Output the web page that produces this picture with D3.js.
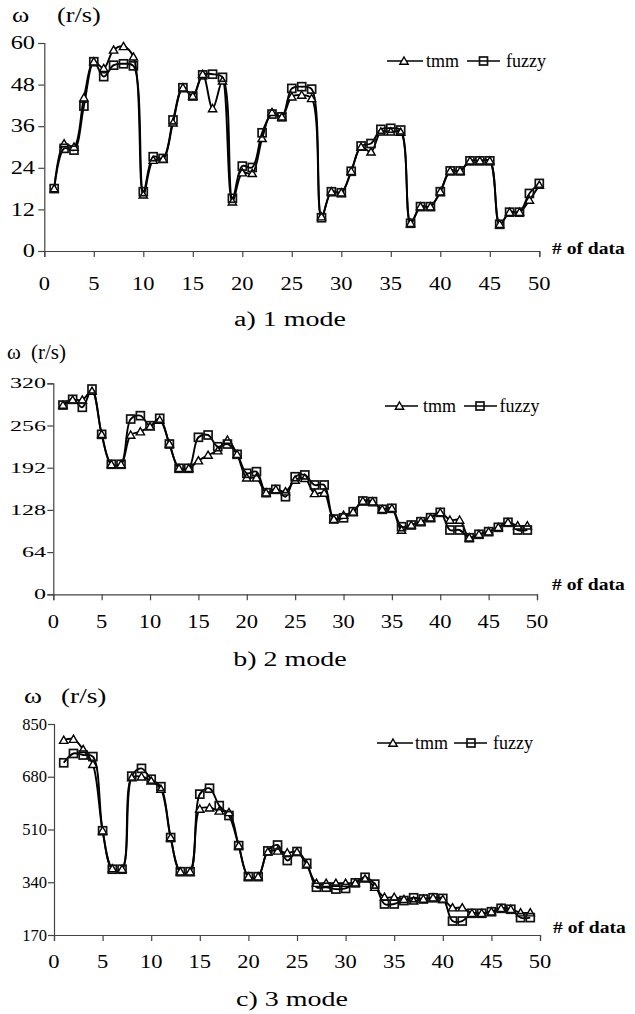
<!DOCTYPE html>
<html>
<head>
<meta charset="utf-8">
<script src="https://cdn.jsdelivr.net/npm/d3@7/dist/d3.min.js"></script>
<style>
html,body{margin:0;padding:0;background:#fff;}
svg{display:block;}
text{font-family:"Liberation Serif","Times New Roman",serif;fill:#000;}
</style>
</head>
<body>
<svg id="chart" width="635" height="1014"></svg>
<script>
// ---------- data ----------
const xTicks = [0,5,10,15,20,25,30,35,40,45,50];
const seriesNames = ["tmm","fuzzy"];

const mode1Tmm   = [18,31,30,44.2,54.6,52.7,58,59,56,16.2,26.2,26.5,37,47.1,44.7,51,41.1,49.1,14.2,22.6,22.4,32.5,40,38.7,44.5,45,44,9.9,17.1,16.8,23,30,28.6,34.4,34.4,34.3,8,12.8,12.8,17.1,23.1,23.1,26,26,26,7.7,11.2,11.2,14.7,19];
const mode1Fuzzy = [18,29.6,29.1,41.8,54.6,50.3,53.6,54,53.4,17.1,27.2,26.7,37.8,47.1,44.7,50.8,51,50.1,15.2,24.5,24.1,34.1,39.5,38.7,46.9,47.4,46.7,9.6,17.1,16.8,23,30.3,31,35.1,35.4,34.9,8,12.8,12.8,17.1,23.1,23.1,26,26,26,7.7,11.2,11.2,16.6,19.5];
const mode1YTicks = [0,12,24,36,48,60];

const mode2Tmm   = [287,295,295,308,242.6,197,197,241.6,246.6,254.2,264.3,228,191,191,202.6,211.2,217.8,234,212.3,176.8,176.8,154,159,155.6,173.3,176,153,153.6,114,120,125,141.5,140.5,129,130.4,97.5,105,110,116,124,112.7,112.7,85.8,91,95,101.6,109,104,104];
const mode2Fuzzy = [287,295.7,283.6,311.3,242.6,197.2,197.2,265.8,270.9,255.7,266.9,227.9,191.1,191.1,238.1,241.6,223.8,227.9,212.3,183.5,186,154.1,159.2,148,178.3,181,165.8,165.8,114.2,116,125.3,141.5,140.5,128.9,130.4,102.5,105.1,110.1,116.2,124.3,97.5,97.5,85.8,91,95,101.6,109.2,97.5,97.5];
const mode2YTicks = [0,64,128,192,256,320];

const mode3Tmm   = [798,801,768,720,506,384,382,677,680,667,640,484,374,374,576,580,570,565,458,358,358,438,441,435,438,396,337,337,337,337,338,351,324,292,292,285,280,286,290,285,258,258,240,240,245,256,253,242,242];
const mode3Fuzzy = [725,755,750,745,506,382,382,682,707,672,648,484,374,374,624,643,587,555,458,358,358,441,460,410,439,401,324,324,318,320,338,356,334,270,270,281,290,286,290,288,215,215,240,240,245,256,253,226,226];
const mode3YTicks = [170,340,510,680,850];

const captions = ["a) 1 mode","b) 2 mode","c) 3 mode"];

// ---------- layout ----------
const panels = [
  {tmm:mode1Tmm, fuzzy:mode1Fuzzy, yTicks:mode1YTicks, caption:captions[0],
   x0:44.3, x1:539.3, yTop:43, yBot:251,
   yLab:{right:35, size:18, sx:1.35},
   xLab:{base:290, size:18, sx:1.25},
   unit:{y:22, wx:12, rx:57, size:21, sx:1.25},
   leg:{y:61, l1:[387,423], tri:404, t1:426, l2:[467,500], sq:483.5, t2:506},
   ofData:{x:552, y:254},
   cap:{x:290, y:326}},
  {tmm:mode2Tmm, fuzzy:mode2Fuzzy, yTicks:mode2YTicks, caption:captions[1],
   x0:53.3, x1:537, yTop:383.3, yBot:594.3,
   yLab:{right:46, size:15, sx:1.6},
   xLab:{base:628, size:18, sx:1.25},
   unit:{y:359, wx:7, rx:31, size:20, sx:1.05},
   leg:{y:406, l1:[385,418], tri:399.5, t1:423, l2:[464,497], sq:480, t2:499.5},
   ofData:{x:552, y:590},
   cap:{x:290, y:666}},
  {tmm:mode3Tmm, fuzzy:mode3Fuzzy, yTicks:mode3YTicks, caption:captions[2],
   x0:54, x1:540, yTop:724, yBot:935,
   yLab:{right:47, size:16.5, sx:1.0},
   xLab:{base:968, size:18, sx:1.25},
   unit:{y:703, wx:24, rx:61, size:21, sx:1.3},
   leg:{y:743, l1:[377,413], tri:393, t1:415, l2:[454,487], sq:471, t2:493},
   ofData:{x:553, y:933},
   cap:{x:292, y:1006}}
];

const svg = d3.select("#chart");

function addText(g, x, y, str, o) {
  o = o || {};
  const t = g.append("text")
    .attr("transform", `translate(${x},${y}) scale(${o.sx||1},1)`)
    .attr("font-size", o.size || 16)
    .attr("text-anchor", o.anchor || "start")
    .text(str);
  if (o.weight) t.attr("font-weight", o.weight);
  return t;
}

const triPath = d3.symbol().type(d3.symbolTriangle).size(30)();
function drawTri(g, x, y) {
  g.append("path").attr("d", triPath)
    .attr("transform", `translate(${x},${y+0.8})`)
    .attr("fill", "#fff").attr("stroke", "#000").attr("stroke-width", 1.4);
}
function drawSq(g, x, y) {
  g.append("rect").attr("x", x-4).attr("y", y-4).attr("width", 8).attr("height", 8)
    .attr("fill", "none").attr("stroke", "#111").attr("stroke-width", 1.7);
}

panels.forEach(p => {
  const g = svg.append("g");
  const x = d3.scaleLinear().domain([0,50]).range([p.x0, p.x1]);
  const yDom = d3.extent(p.yTicks);
  const y = d3.scaleLinear().domain(yDom).range([p.yBot, p.yTop]);

  // axes
  const yAxis = d3.axisLeft(y).tickValues(p.yTicks).tickSize(6).tickFormat("");
  const xAxis = d3.axisBottom(x).tickValues(xTicks).tickSize(6).tickFormat("");
  const ya = g.append("g").attr("transform", `translate(${p.x0},0)`).call(yAxis);
  const xa = g.append("g").attr("transform", `translate(0,${p.yBot})`).call(xAxis);
  [ya, xa].forEach(a => {
    a.select(".domain").attr("stroke", "#444").attr("stroke-width", 1.2);
    a.selectAll(".tick line").attr("stroke", "#444").attr("stroke-width", 1.2);
  });

  // tick labels
  p.yTicks.forEach(v => addText(g, p.yLab.right, y(v) + p.yLab.size*0.34, String(v),
     {size:p.yLab.size, sx:p.yLab.sx, anchor:"end"}));
  xTicks.forEach(v => addText(g, x(v), p.xLab.base, String(v),
     {size:p.xLab.size, sx:p.xLab.sx, anchor:"middle"}));

  // unit label
  addText(g, p.unit.wx, p.unit.y, "ω", {size:p.unit.size, sx:p.unit.sx});
  addText(g, p.unit.rx, p.unit.y, "(r/s)", {size:p.unit.size, sx:p.unit.sx});

  // "# of data"
  addText(g, p.ofData.x, p.ofData.y, "# of data", {size:17, sx:1.15, weight:"bold"});

  // caption
  addText(g, p.cap.x, p.cap.y, p.caption, {size:20, sx:1.4, anchor:"middle"});

  // lines
  const line = d3.line()
    .x((d,i) => x(i+1)).y(d => y(d))
    .curve(d3.curveCatmullRom.alpha(0.5));
  [p.fuzzy, p.tmm].forEach(arr => {
    g.append("path").attr("d", line(arr))
      .attr("fill", "none").attr("stroke", "#000").attr("stroke-width", 1.9);
  });
  // markers
  p.tmm.forEach((v,i) => drawTri(g, x(i+1), y(v)));
  p.fuzzy.forEach((v,i) => drawSq(g, x(i+1), y(v)));

  // legend
  const L = p.leg;
  g.append("line").attr("x1", L.l1[0]).attr("x2", L.l1[1]).attr("y1", L.y).attr("y2", L.y)
    .attr("stroke", "#000").attr("stroke-width", 1.6);
  drawTri(g, L.tri, L.y);
  addText(g, L.t1, L.y + 6, seriesNames[0], {size:18});
  g.append("line").attr("x1", L.l2[0]).attr("x2", L.l2[1]).attr("y1", L.y).attr("y2", L.y)
    .attr("stroke", "#000").attr("stroke-width", 1.6);
  drawSq(g, L.sq, L.y);
  addText(g, L.t2, L.y + 6, seriesNames[1], {size:18});
});
</script>
</body>
</html>
